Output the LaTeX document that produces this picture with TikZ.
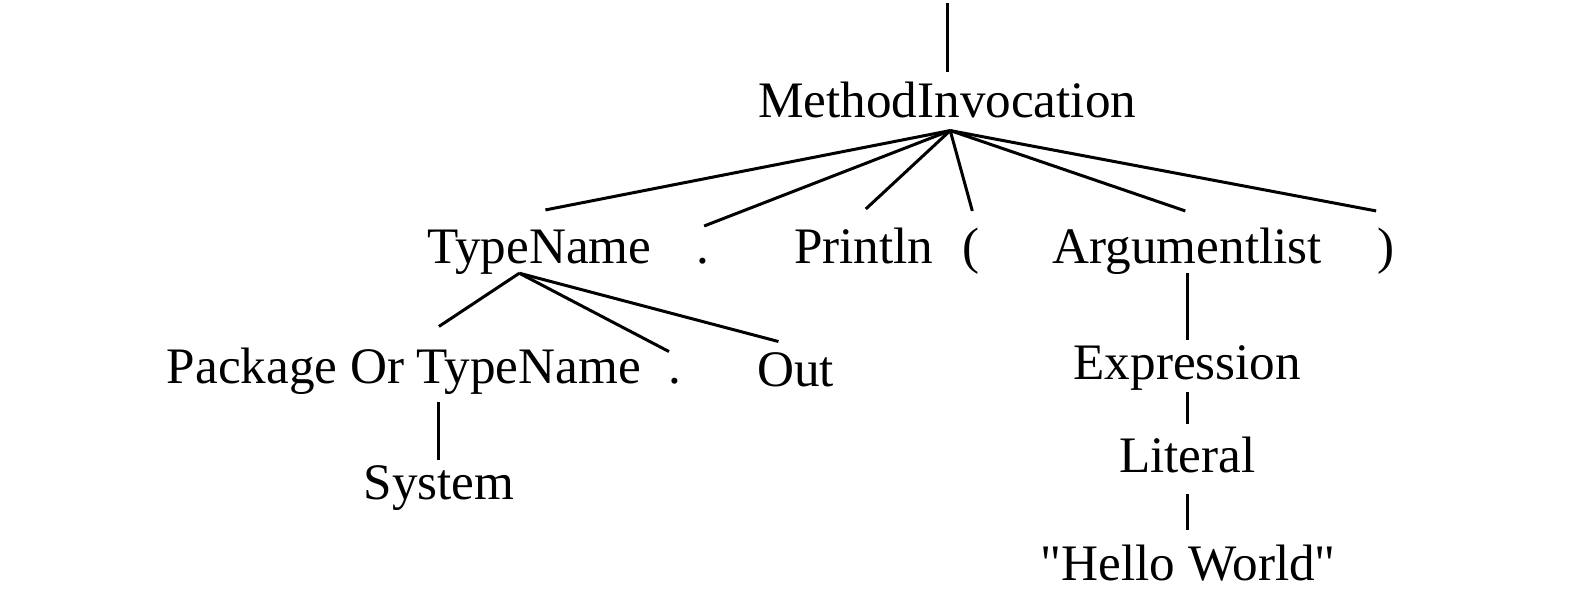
\documentclass[tikz,border=0pt]{standalone}
\usepackage{fontspec}
\setmainfont{Liberation Serif}
\usetikzlibrary{calc,positioning}

\begin{document}
\begin{tikzpicture}[x=0.02cm,y=-0.02cm,
every node/.style={inner sep=0pt, anchor=base, font=\fontsize{29}{34}\selectfont},
edge/.style={line width=1.7pt}]
\useasboundingbox (0,0) rectangle (1568,601);
\coordinate (top) at (943,3);
\node (mi) at (943,117) {MethodInvocation};
\node (tn) at (537,262) {TypeName};
\node (dA) at (700,262) {.};
\node (pl) at (860,262) {Println};
\node (lp) at (967,262) {(};
\node (al) at (1182,262) {Argumentlist};
\node (rp) at (1380,262) {)};
\node (pkg) at (402,382) {Package Or TypeName};
\node (dB) at (672,382) {.};
\node (out) at (792,385) {Out};
\node (sys) at (437,497) {System};
\node (ex) at (1182,378) {Expression};
\node (lit) at (1182,470) {Literal};
\node (hw) at (1183,578) {\textquotedbl Hello World\textquotedbl};
\draw[edge] (top)--($(mi.base)+(0,-45)$);
\draw[edge] ($(mi.base)+(3,13)$)--($(tn.base)+(6,-53)$);
\draw[edge] ($(mi.base)+(3,13)$)--($(dA.base)+(1,-37)$);
\draw[edge] ($(mi.base)+(3,13)$)--($(pl.base)+(2,-54)$);
\draw[edge] ($(mi.base)+(3,13)$)--($(lp.base)+(1,-52)$);
\draw[edge] ($(mi.base)+(3,13)$)--($(al.base)+(-2,-52)$);
\draw[edge] ($(mi.base)+(3,13)$)--($(rp.base)+(-10,-52)$);
\draw[edge] ($(tn.base)+(-20,10)$)--($(pkg.base)+(35,-57)$);
\draw[edge] ($(tn.base)+(-20,10)$)--($(dB.base)+(-6,-32)$);
\draw[edge] ($(tn.base)+(-20,10)$)--($(out.base)+(-17,-45)$);
\draw[edge] ($(pkg.base)+(35,18)$)--($(sys.base)+(0,-39)$);
\draw[edge] ($(al.base)+(0,10)$)--($(ex.base)+(0,-40)$);
\draw[edge] ($(ex.base)+(0,12)$)--($(lit.base)+(0,-48)$);
\draw[edge] ($(lit.base)+(0,22)$)--($(hw.base)+(-1,-50)$);
\end{tikzpicture}
\end{document}
